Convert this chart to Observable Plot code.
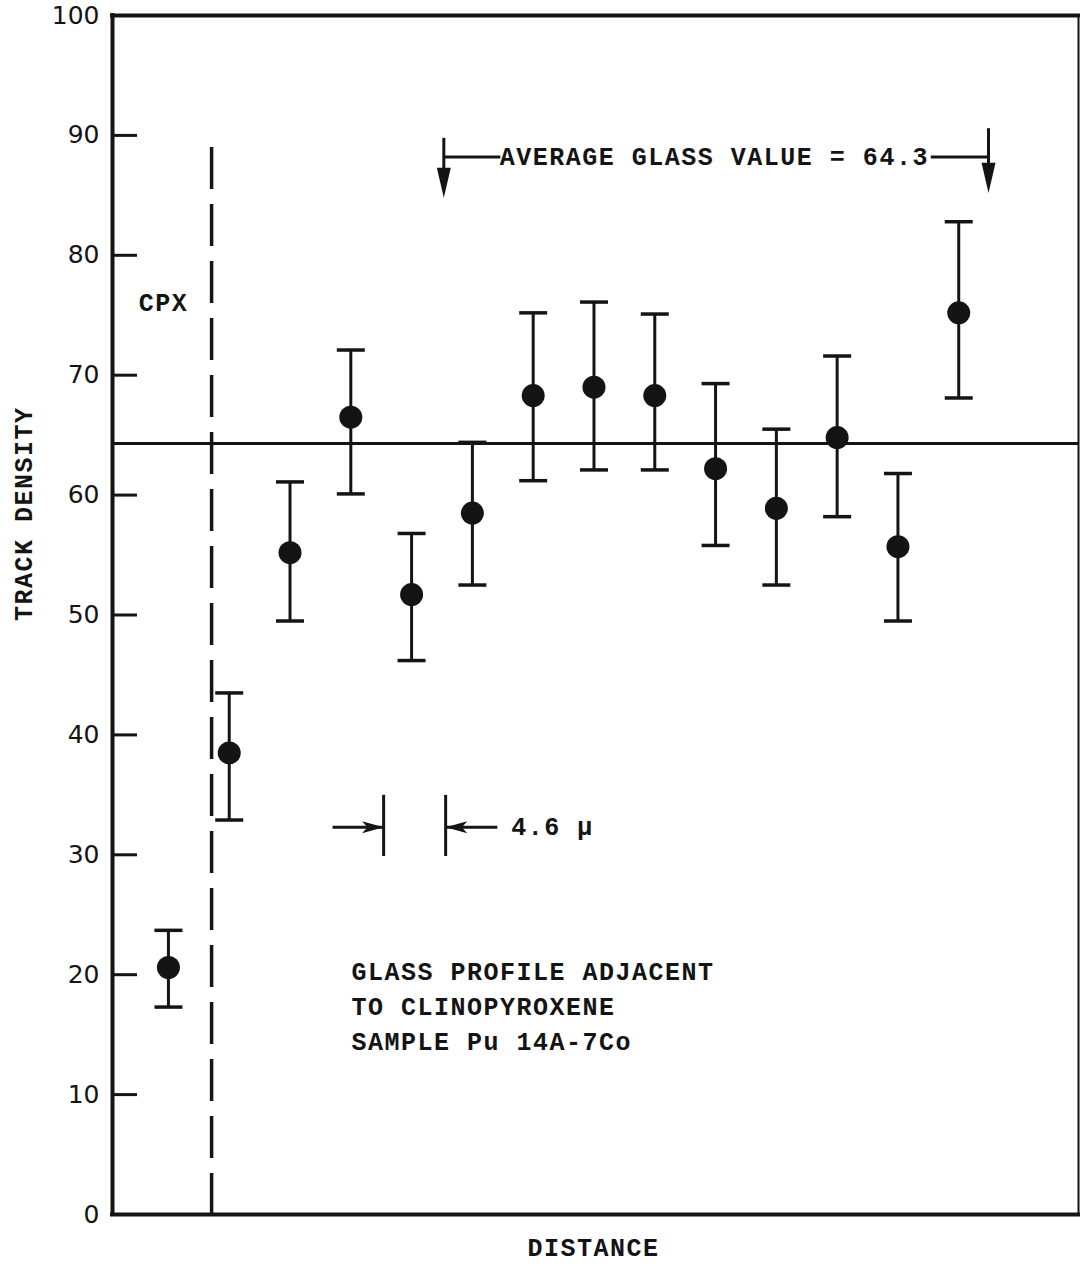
<!DOCTYPE html>
<html>
<head>
<meta charset="utf-8">
<script src="https://cdn.jsdelivr.net/npm/d3@7"></script>
<script src="https://cdn.jsdelivr.net/npm/@observablehq/plot@0.6"></script>
<style>
  body { margin: 0; background: #fff; }
</style>
</head>
<body>
<div id="chart"></div>
<script>
// Track density profile across glass next to a clinopyroxene grain.
// Each step is one 4.6 µ increment of distance.
const steps   = [1, 2, 3, 4, 5, 6, 7, 8, 9, 10, 11, 12, 13, 14];
const density = [20.6, 38.5, 55.2, 66.5, 51.7, 58.5, 68.3, 69.0, 68.3, 62.2, 58.9, 64.8, 55.7, 75.2];
const upper   = [23.7, 43.5, 61.1, 72.1, 56.8, 64.4, 75.2, 76.1, 75.1, 69.3, 65.5, 71.6, 61.8, 82.8];
const lower   = [17.3, 32.9, 49.5, 60.1, 46.2, 52.5, 61.2, 62.1, 62.1, 55.8, 52.5, 58.2, 49.5, 68.1];

const yTicks = [0, 10, 20, 30, 40, 50, 60, 70, 80, 90, 100];
const xDomain = [0.08, 15.97];

// Mean density of the glass and the crystal/glass interface
const glassAverage = 64.3;
const interfaceStep = 1.71;
const interfaceTop = 89;

// Bracket marking the range used for the glass average
const avgLabel = "AVERAGE GLASS VALUE = 64.3";
const avgLabelPos = [9.98, 88.2];
const avgBracketX = [5.53, 14.49];
const avgBracketTop = [89.8, 90.6];
const avgLabelEdges = [6.46, 13.54];
const avgArrowTip = [84.8, 85.2];

// Scale bar: one step of distance
const scaleLabel = "4.6 µ";
const scaleBarX = [4.54, 5.56];
const scaleBarY = [29.9, 35.0];
const scaleArrowY = 32.3;
const scaleArrowTail = [3.70, 6.41];
const scaleLabelX = 6.64;

const crystalLabel = "CPX";
const crystalLabelPos = [0.92, 76.0];

const sampleNote = "GLASS PROFILE ADJACENT\nTO CLINOPYROXENE\nSAMPLE Pu 14A-7Co";
const sampleNotePos = [4.01, 17.6];

const yTitle = "TRACK DENSITY";
const xTitle = "DISTANCE";

// Layout
const width = 1081, height = 1270;
const marginLeft = 112, marginRight = 3, marginTop = 15, marginBottom = 56;
const tickLength = 25;
const ink = "#141414";
const typeFont = "Liberation Mono";
const typeSize = 25;

const points = steps.map((s, i) => ({step: s, density: density[i], upper: upper[i], lower: lower[i]}));

// Flat error-bar cap; half-length equals the dot radius r
const capSymbol = {
  draw(ctx, size) {
    const r = Math.sqrt(size / Math.PI);
    ctx.moveTo(-r, 0);
    ctx.lineTo(r, 0);
  }
};
// Long solid arrowhead with its tip at the anchor point, pointing down
const longHead = {
  draw(ctx, size) {
    const r = Math.sqrt(size / Math.PI);
    ctx.moveTo(0, 0);
    ctx.lineTo(-r, -4.3 * r);
    ctx.lineTo(r, -4.3 * r);
    ctx.closePath();
  }
};
// Barbed arrowhead, tip at the anchor point, pointing down
const barbHead = {
  draw(ctx, size) {
    const r = Math.sqrt(size / Math.PI);
    ctx.moveTo(0, 0);
    ctx.lineTo(-r, -3.6 * r);
    ctx.lineTo(0, -2.7 * r);
    ctx.lineTo(r, -3.6 * r);
    ctx.closePath();
  }
};

const bracketSegments = [
  {x1: avgBracketX[0], y1: avgBracketTop[0], x2: avgBracketX[0], y2: avgArrowTip[0] + 2},
  {x1: avgBracketX[0], y1: avgLabelPos[1], x2: avgLabelEdges[0], y2: avgLabelPos[1]},
  {x1: avgLabelEdges[1], y1: avgLabelPos[1], x2: avgBracketX[1], y2: avgLabelPos[1]},
  {x1: avgBracketX[1], y1: avgBracketTop[1], x2: avgBracketX[1], y2: avgArrowTip[1] + 2}
];
const bracketHeads = [
  {x: avgBracketX[0], y: avgArrowTip[0]},
  {x: avgBracketX[1], y: avgArrowTip[1]}
];
const scaleSegments = [
  {x1: scaleBarX[0], y1: scaleBarY[0], x2: scaleBarX[0], y2: scaleBarY[1]},
  {x1: scaleBarX[1], y1: scaleBarY[0], x2: scaleBarX[1], y2: scaleBarY[1]},
  {x1: scaleArrowTail[0], y1: scaleArrowY, x2: scaleBarX[0], y2: scaleArrowY},
  {x1: scaleBarX[1], y1: scaleArrowY, x2: scaleArrowTail[1], y2: scaleArrowY}
];
const scaleHeads = [
  {x: scaleBarX[0], y: scaleArrowY, rotate: -90},
  {x: scaleBarX[1], y: scaleArrowY, rotate: 90}
];

const frameWidth = width - marginLeft - marginRight;
const typeText = {fontFamily: typeFont, fontSize: typeSize, fontWeight: "bold", fill: ink};

const chart = Plot.plot({
  width, height, marginLeft, marginRight, marginTop, marginBottom,
  style: {background: "#fff", color: ink},
  x: {domain: xDomain, axis: null},
  y: {domain: [0, 100]},
  marks: [
    // inward tick marks
    Plot.ruleY(yTicks.filter(t => t > 0 && t < 100), {stroke: ink, strokeWidth: 3, insetRight: frameWidth - tickLength}),
    Plot.axisY(yTicks, {tickSize: 0, tickPadding: 13, fontSize: 25, fontFamily: "DejaVu Sans", fill: ink, label: null}),
    // average glass value
    Plot.ruleY([glassAverage], {stroke: ink, strokeWidth: 3}),
    // crystal / glass interface
    Plot.ruleX([interfaceStep], {y1: interfaceTop, y2: 0, stroke: ink, strokeWidth: 3.5, strokeDasharray: "42,15"}),
    // error bars and caps
    Plot.ruleX(points, {x: "step", y1: "lower", y2: "upper", stroke: ink, strokeWidth: 3}),
    Plot.dot(points, {x: "step", y: "upper", symbol: capSymbol, r: 14, stroke: ink, strokeWidth: 3.5, fill: "none"}),
    Plot.dot(points, {x: "step", y: "lower", symbol: capSymbol, r: 14, stroke: ink, strokeWidth: 3.5, fill: "none"}),
    Plot.dot(points, {x: "step", y: "density", r: 11.5, fill: ink, stroke: "none"}),
    // average bracket
    Plot.link(bracketSegments, {x1: "x1", y1: "y1", x2: "x2", y2: "y2", stroke: ink, strokeWidth: 3}),
    Plot.dot(bracketHeads, {x: "x", y: "y", symbol: longHead, r: 7, fill: ink, stroke: "none"}),
    Plot.text([avgLabel], {x: avgLabelPos[0], y: avgLabelPos[1], ...typeText}),
    // scale bar
    Plot.link(scaleSegments, {x1: "x1", y1: "y1", x2: "x2", y2: "y2", stroke: ink, strokeWidth: 3}),
    Plot.dot(scaleHeads, {x: "x", y: "y", rotate: "rotate", symbol: barbHead, r: 6, fill: ink, stroke: "none"}),
    Plot.text([scaleLabel], {x: scaleLabelX, y: scaleArrowY, textAnchor: "start", ...typeText}),
    // labels
    Plot.text([crystalLabel], {x: crystalLabelPos[0], y: crystalLabelPos[1], ...typeText}),
    Plot.text([sampleNote], {x: sampleNotePos[0], y: sampleNotePos[1], textAnchor: "start", lineHeight: 1.4, ...typeText}),
    Plot.text([yTitle], {frameAnchor: "left", dx: -89, dy: 6, rotate: -90, ...typeText}),
    Plot.text([xTitle], {frameAnchor: "bottom", dx: -2, dy: 41, ...typeText}),
    // plot frame: heavy left, bottom and top, light right
    Plot.ruleX([xDomain[0]], {stroke: ink, strokeWidth: 4, strokeLinecap: "square"}),
    Plot.ruleY([0], {stroke: ink, strokeWidth: 4, strokeLinecap: "square"}),
    Plot.ruleY([100], {stroke: ink, strokeWidth: 4, strokeLinecap: "square"}),
    Plot.ruleX([xDomain[1]], {stroke: ink, strokeWidth: 2})
  ]
});

// typewriter-style spacing for the annotation text
d3.select(chart).selectAll('g[aria-label="text"] text').attr("letter-spacing", "1.5px");

document.getElementById("chart").append(chart);
</script>
</body>
</html>
